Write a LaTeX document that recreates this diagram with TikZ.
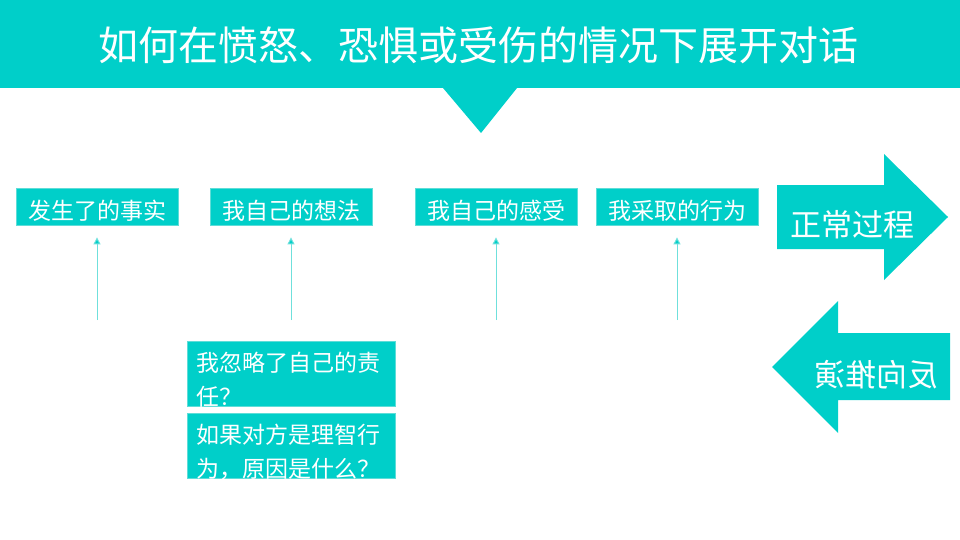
\documentclass[tikz,border=0pt]{standalone}
\usepackage{fontspec}
\usepackage{xcolor}
\usetikzlibrary{arrows.meta}
\setmainfont{Noto Sans CJK SC}
\definecolor{aqua}{HTML}{00CFC9}
\definecolor{aqualine}{HTML}{6FE0DC}
\definecolor{aquarim}{HTML}{5EDDD8}

\begin{document}
\begin{tikzpicture}[x=1pt,y=-1pt,
    stepbox/.style={fill=aqua,draw=aquarim,line width=0.8pt,minimum width=162pt,minimum height=37pt,
      inner sep=0pt,text=white,font=\fontsize{23}{28}\selectfont,text height=28pt,text depth=3pt},
    notebox/.style={fill=aqua,draw=aquarim,line width=0.8pt,minimum width=208pt,minimum height=65pt,
      anchor=north west,inner sep=0pt},
    notetext/.style={anchor=north west,inner sep=0pt,text=white,align=left,font=\fontsize{23}{34}\selectfont},
    uparrow/.style={draw=aqualine,line width=1pt,-{Triangle[length=7pt,width=7pt,fill=aqua]},shorten >=12pt},
    bigtext/.style={text=white,font=\fontsize{31}{36}\selectfont}]
\useasboundingbox (0,0) rectangle (960,540);
\fill[aqua] (0,0) -- (960,0) -- (960,88) -- (517,88) -- (481,133) -- (443,88) -- (0,88) -- cycle;
\node[text=white,font=\fontsize{40}{48}\selectfont] (title) at (478,45) {如何在愤怒、恐惧或受伤的情况下展开对话};

\node[stepbox] (fact) at (97,206.5) {发生了的事实};
\node[stepbox] (thought) at (291,206.5) {我自己的想法};
\node[stepbox] (feeling) at (496,206.5) {我自己的感受};
\node[stepbox] (action) at (677,206.5) {我采取的行为};
\foreach \b in {fact,thought,feeling,action}{
  \coordinate (\b-base) at (\b.south |- 0,320);
  \draw[uparrow] (\b-base) -- (\b);
}

\node[notebox] (fault) at (187,341) {};
\node[notetext] (faulttext) at ([xshift=9pt,yshift=-11pt]fault.north west) {我忽略了自己的责\\任？};
\node[notebox] (reason) at (187,413) {};
\node[notetext] (reasontext) at ([xshift=9pt,yshift=-11pt]reason.north west) {如果对方是理智行\\为，原因是什么？};

\fill[aqua] (777,185) -- (884,185) -- (884,154) -- (948,217) -- (884,280) -- (884,249) -- (777,249) -- cycle;
\node[bigtext] (normal) at (852,225) {正常过程};
\fill[aqua] (950,333) -- (838,333) -- (838,301) -- (772,367) -- (838,433) -- (838,400) -- (950,400) -- cycle;
\node[bigtext] (reverse) at (876,375) {\reflectbox{反向推演}};
\end{tikzpicture}
\end{document}
